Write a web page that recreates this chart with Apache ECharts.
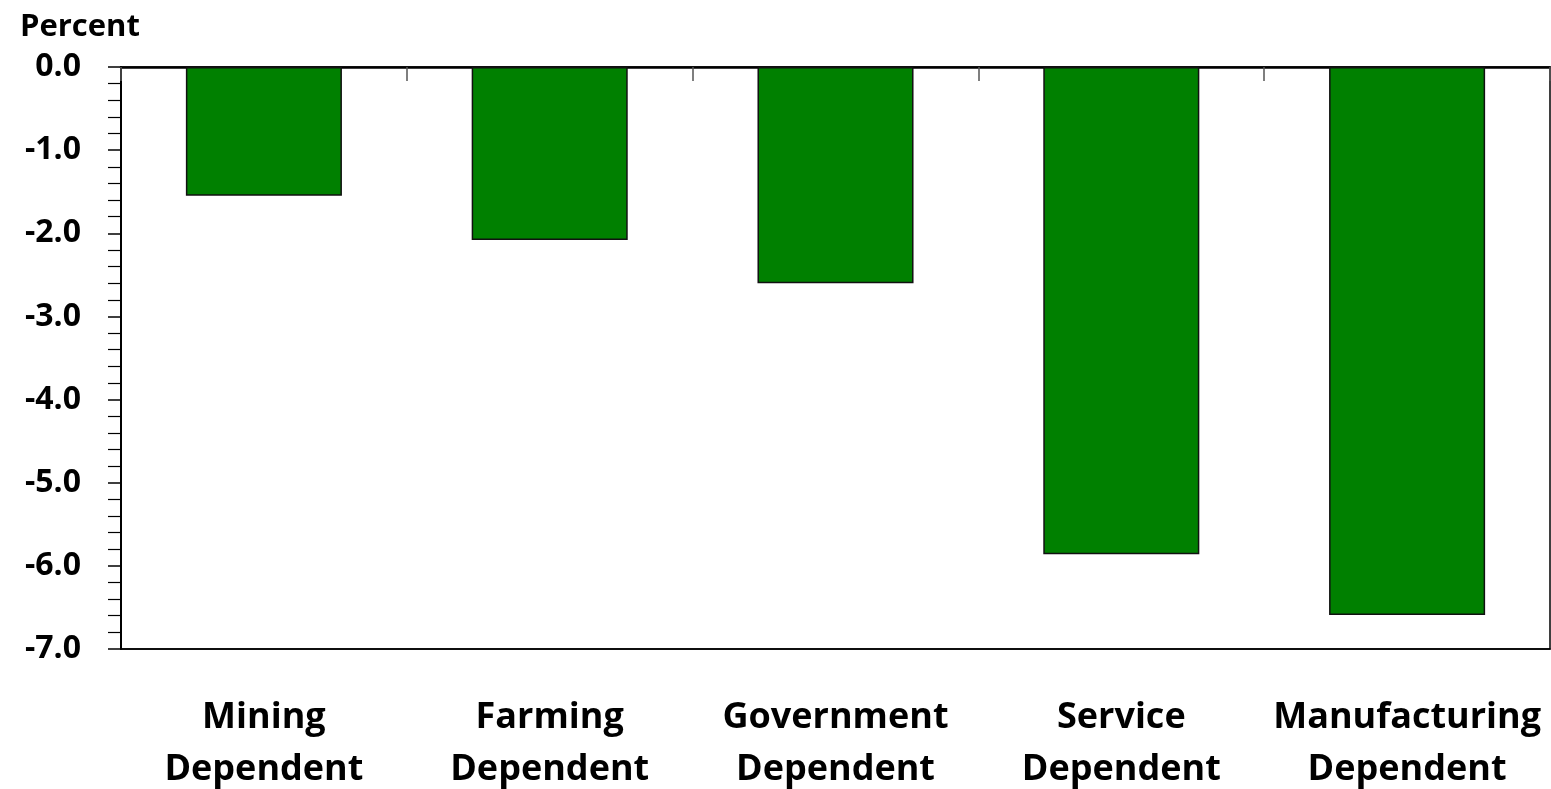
<!DOCTYPE html>
<html>
<head>
<meta charset="utf-8">
<script src="https://cdn.jsdelivr.net/npm/echarts@6/dist/echarts.min.js"></script>
<style>html,body{margin:0;padding:0;background:#fff}#c{width:1551px;height:789px}</style>
</head>
<body>
<div id="c"></div>
<script>
var categories = ["Mining\nDependent", "Farming\nDependent", "Government\nDependent", "Service\nDependent", "Manufacturing\nDependent"];
var values = [-1.55, -2.08, -2.60, -5.86, -6.59];
var yMin = -7, yMax = 0, yInterval = 1;
var yTitle = "Percent";

var FONT = '"Open Sans", sans-serif';
var chart = echarts.init(document.getElementById('c'), null, {renderer: 'canvas'});
chart.setOption({
  animation: false,
  backgroundColor: '#fff',
  title: {
    text: yTitle, left: 15, top: 7,
    textStyle: {fontFamily: FONT, fontWeight: 'bold', fontSize: 31, color: '#000'}
  },
  grid: {left: 121, right: 1, top: 67, bottom: 140, outerBoundsMode: 'none', containLabel: false, show: true, borderColor: '#000', borderWidth: 1.5, backgroundColor: 'transparent'},
  xAxis: [{
    type: 'category', data: categories, position: 'bottom',
    axisLine: {show: true, onZero: false, lineStyle: {color: '#000', width: 1.5}},
    axisTick: {show: false},
    axisLabel: {interval: 0, margin: 43, lineHeight: 52, fontFamily: FONT, fontWeight: 'bold', fontSize: 36, color: '#000'}
  }, {
    type: 'category', data: categories, position: 'top',
    axisLine: {show: true, onZero: false, lineStyle: {color: '#000', width: 2.5}},
    axisTick: {show: true, inside: true, length: 14, interval: 0, lineStyle: {color: '#555', width: 1.5}},
    axisLabel: {show: false}
  }],
  yAxis: {
    type: 'value', min: yMin, max: yMax, interval: yInterval,
    axisLine: {show: true, lineStyle: {color: '#000', width: 2}},
    axisTick: {show: true, length: 13, lineStyle: {color: '#000', width: 1.5}},
    minorTick: {show: true, splitNumber: 5, length: 13, lineStyle: {color: '#000', width: 1.2}},
    splitLine: {show: false},
    axisLabel: {margin: 40, fontFamily: FONT, fontWeight: 'bold', fontSize: 32, color: '#000', formatter: function (v) { return v.toFixed(1); }}
  },
  series: [{
    type: 'bar', data: values, barWidth: '54.6%', xAxisIndex: 0,
    itemStyle: {color: '#008000', borderColor: '#111', borderWidth: 1.5}
  }]
});
</script>
</body>
</html>
